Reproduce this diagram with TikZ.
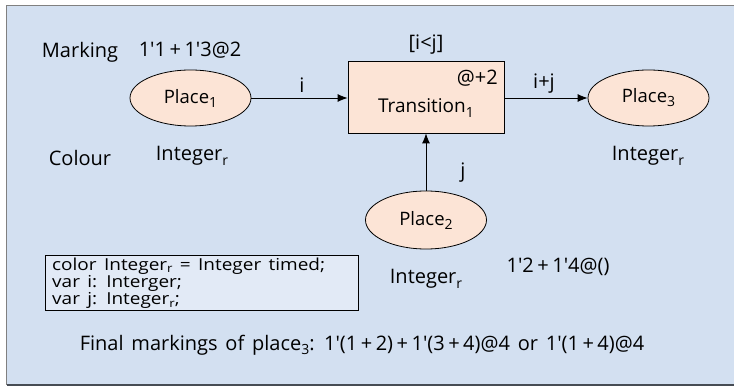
\documentclass[tikz,border=0pt]{standalone}
\usepackage{fontspec}
\setmainfont[WordSpace=1.5]{Open Sans}
\usetikzlibrary{shapes.geometric,arrows.meta}
\definecolor{bgblue}{RGB}{211,224,241}
\definecolor{boxblue}{RGB}{226,234,246}
\definecolor{peach}{RGB}{252,228,214}
\definecolor{framegray}{RGB}{128,128,128}
\definecolor{framedark}{RGB}{70,76,84}
\newcommand\ap{\textquotesingle}
\newcommand\lowsub[1]{\raisebox{-0.4ex}{\fontsize{14}{14}\selectfont #1}}
\newcommand\dsub[1]{\raisebox{-0.25ex}{\fontsize{11.5}{11.5}\selectfont #1}}
\newcommand\pl{\hspace{3.5pt}+\hspace{3.5pt}}
\begin{document}
\begin{tikzpicture}[x=1pt,y=-1pt,
  txt/.style={font=\fontsize{20}{20}\selectfont, inner sep=0pt},
  decl/.style={font=\fontsize{16.5}{16.5}\selectfont\addfontfeatures{FakeStretch=1.15}, inner sep=0pt, anchor=base west},
  place/.style={ellipse, draw=black, line width=0.8pt, fill=peach, minimum width=121pt, minimum height=56pt, inner sep=0pt, font=\fontsize{18.5}{18.5}\selectfont},
  trans/.style={rectangle, draw=black, line width=0.8pt, fill=peach, minimum width=156pt, minimum height=72pt, inner sep=0pt},
  arc/.style={draw=black, line width=0.8pt, -{Latex[length=10pt,width=8pt]}}]
\useasboundingbox (0,0) rectangle (734,387);
\fill[white] (0,0) rectangle (734,387);
\fill[bgblue] (6.5,5.5) rectangle (740,385);
\draw[framegray, line width=1.2pt] (740,5.5) -- (6.5,5.5) -- (6.5,385);
\draw[framedark, line width=1.2pt] (6.5,385) -- (740,385);
% nodes
\node[place] (P1) at (190.5,98) {Place\lowsub{1}};
\node[trans] (T) at (426,97) {};
\node[place] (P3) at (648.5,98) {Place\lowsub{3}};
\node[place, minimum height=58pt] (P2) at (426,220) {Place\lowsub{2}};
% texts
\node[txt] (mk) at (80,52) {Marking};
\node[txt] (m1) at (190,50) {1\ap1\pl1\ap3@2};
\node[txt] (col) at (80,158) {Colour};
\node[txt] (c1) at (192,156) {Integer\lowsub{r}};
\node[txt] (guard) at (426,45) {[i<j]};
\node[txt, anchor=east] (delay) at (498,78) {@+2};
\node[txt, font=\fontsize{19}{19}\selectfont] (tname) at (426,108) {Transition\lowsub{1}};
\node[txt] (c3) at (648,156) {Integer\lowsub{r}};
\node[txt] (c2) at (426,279) {Integer\lowsub{r}};
\node[txt] (m2) at (558,267) {1\ap2\pl1\ap4@()};
% arcs
\draw[arc] (P1.east) -- (T.west |- P1.east);
\draw[arc] (T.east |- P3.west) -- (P3.west);
\draw[arc] (P2.north) -- (T.south);
\node[txt] (li) at (302,85) {i};
\node[txt] (lij) at (544,84) {i+j};
\node[txt] (lj) at (463,173) {j};
% declarations
\node[draw=black, line width=0.8pt, fill=boxblue, minimum width=313pt, minimum height=55pt, inner sep=0pt] (declbox) at (201.5,282.5) {};
\node[decl] (d1) at (52,270.2) {color Integer\dsub{r} = Integer timed;};
\node[decl] (d2) at (52,287.5) {var i: Interger;};
\node[decl] (d3) at (52,304.8) {var j: Integer\dsub{r};};
\node[txt] (final) at (362,345) {Final markings of place\lowsub{3}: 1\ap(1\pl2)\pl1\ap(3\pl4)@4 or 1\ap(1\pl4)@4};
\end{tikzpicture}
\end{document}
